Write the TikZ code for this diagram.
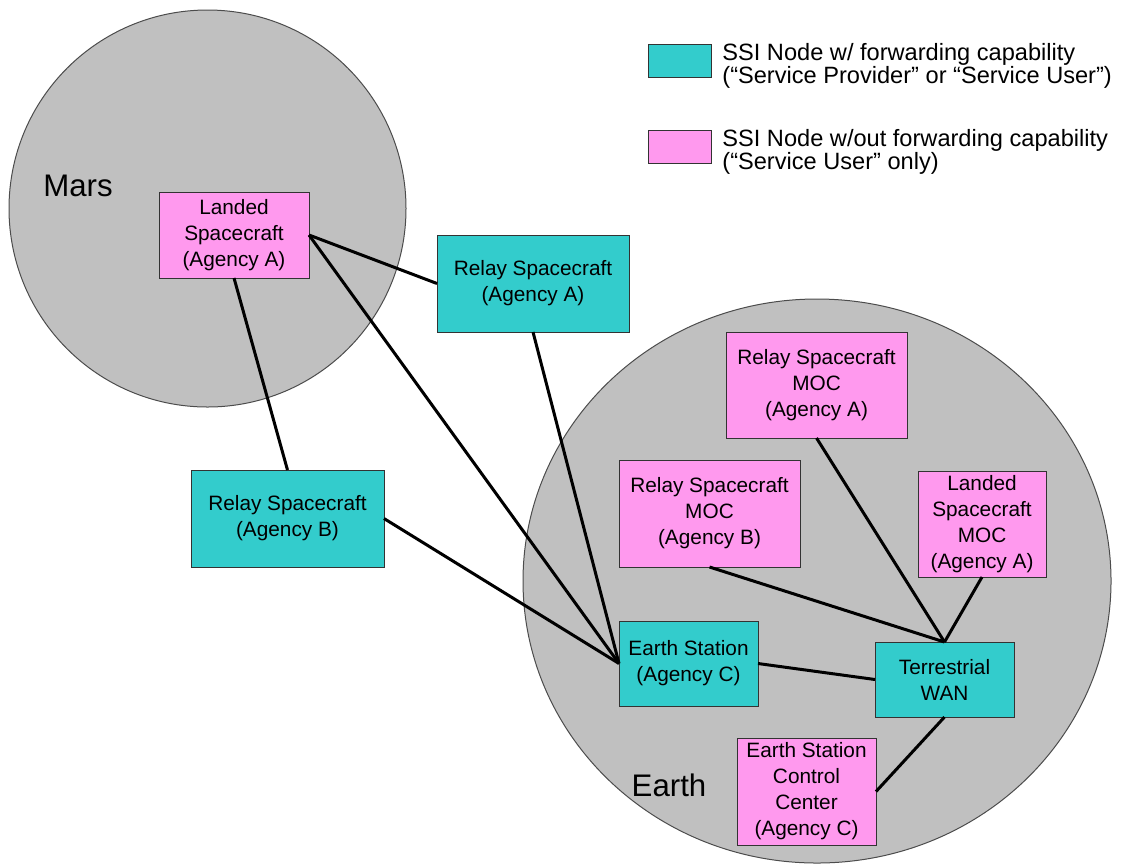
\documentclass[tikz,border=0pt]{standalone}
\usepackage{fontspec}
\setmainfont{Liberation Sans}
\usepackage{xcolor}
\usepackage{tikz}
\usetikzlibrary{positioning}
\definecolor{fwdcyan}{RGB}{51,204,204}
\definecolor{userpink}{RGB}{255,153,238}
\definecolor{planet}{RGB}{192,192,192}
\tikzset{
  body/.style={fill=planet, draw=black!70, line width=0.5pt},
  box/.style={draw=black!80, line width=0.5pt, inner sep=0pt, outer sep=0pt, align=center,
    font=\fontsize{10.4}{13}\selectfont},
  fwd/.style={box, fill=fwdcyan},      % forwarding node
  nofwd/.style={box, fill=userpink},   % service user only
  link/.style={line width=1.5pt},
  bodyname/.style={font=\fontsize{15.6}{18}\selectfont},
  legendtxt/.style={anchor=west, inner sep=0pt, align=left, font=\fontsize{11.8}{11.4}\selectfont}
}
\begin{document}
\begin{tikzpicture}[x=0.5pt,y=-0.5pt]
  \useasboundingbox (0,0) rectangle (1143,863);
  % planets
  \draw[body] (207.5,208.5) circle [radius=198.5];
  \draw[body] (817,581) ellipse [x radius=294, y radius=282];
  \node[bodyname] (mars) at (78,186) {Mars};
  \node[bodyname] (earth) at (669,785) {Earth};
  % legend
  \node[fwd, minimum width=31.5pt, minimum height=16.5pt] (keyfwd) at (679.5,60.5) {};
  \node[nofwd, minimum width=31.5pt, minimum height=16.5pt] (keyuser) at (679.5,146.5) {};
  \node[legendtxt] (keyfwdtxt) at (722,66) {SSI Node w/ forwarding capability\\(“Service Provider” or “Service User”)};
  \node[legendtxt] (keyusertxt) at (722,152) {SSI Node w/out forwarding capability\\(“Service User” only)};
  % nodes
  \node[nofwd, minimum width=75pt, minimum height=43pt] (land) at (234,235) {Landed\\Spacecraft\\(Agency A)};
  \node[fwd, minimum width=96pt, minimum height=48.5pt] (relA) at (533,283.5) {Relay Spacecraft\\(Agency A)};
  \node[fwd, minimum width=96.5pt, minimum height=48.5pt] (relB) at (287.5,518.5) {Relay Spacecraft\\(Agency B)};
  \node[nofwd, minimum width=90.5pt, minimum height=53pt] (mocA) at (816.5,385) {Relay Spacecraft\\MOC\\(Agency A)};
  \node[nofwd, minimum width=90.5pt, minimum height=53.5pt] (mocB) at (709.5,513.5) {Relay Spacecraft\\MOC\\(Agency B)};
  \node[nofwd, minimum width=64pt, minimum height=53pt] (landmoc) at (982,524) {Landed\\Spacecraft\\MOC\\(Agency A)};
  \node[fwd, minimum width=69.5pt, minimum height=42.5pt] (es) at (688.5,663.5) {Earth Station\\(Agency C)};
  \node[fwd, minimum width=69.5pt, minimum height=37.5pt] (wan) at (944.5,679.5) {Terrestrial\\WAN};
  \node[nofwd, minimum width=69.5pt, minimum height=53.5pt] (escc) at (806.5,791.5) {Earth Station\\Control\\Center\\(Agency C)};
  % links
  \draw[link] (land.south) -- (relB.north);
  \draw[link] (land.east) -- (relA.west);
  \draw[link] (land.east) -- (es.west);
  \draw[link] (relA.south) -- (es.west);
  \draw[link] (relB.east) -- (es.west);
  \draw[link] (es.east) -- (wan.west);
  \draw[link] (mocB.south) -- (wan.north);
  \draw[link] (mocA.south) -- (wan.north);
  \draw[link] (landmoc.south) -- (wan.north);
  \draw[link] (wan.south) -- (escc.east);
\end{tikzpicture}
\end{document}
